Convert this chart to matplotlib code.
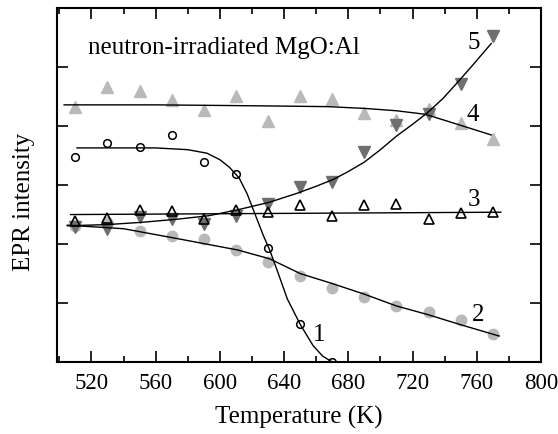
import numpy as np
import matplotlib as mpl
import matplotlib.pyplot as plt
from matplotlib.ticker import MultipleLocator, NullFormatter

mpl.rcParams['font.family'] = ['Liberation Serif', 'DejaVu Serif']

# measured temperatures (K)
T = [510, 530, 550, 570, 590, 610, 630, 650, 670, 690, 710, 730, 750, 770]
T1 = T[:9]

# EPR intensity, arbitrary units
y1 = [3.47, 3.71, 3.64, 3.85, 3.39, 3.19, 1.93, 0.64, 0.0]
y2 = [2.31, 2.37, 2.22, 2.13, 2.08, 1.90, 1.69, 1.46, 1.25, 1.10, 0.95, 0.85, 0.71, 0.47]
y3 = [2.39, 2.45, 2.58, 2.56, 2.42, 2.58, 2.54, 2.66, 2.47, 2.66, 2.68, 2.42, 2.52, 2.54]
y4 = [4.32, 4.66, 4.59, 4.44, 4.27, 4.51, 4.08, 4.51, 4.46, 4.22, 4.10, 4.29, 4.05, 3.78]
y5 = [2.29, 2.25, 2.46, 2.42, 2.34, 2.47, 2.68, 2.97, 3.05, 3.56, 4.02, 4.20, 4.71, 5.53]

# fitted curves
f1_T = [511, 560, 580, 592, 600, 606, 612, 617, 622, 627, 631, 636, 642, 650, 658, 664, 670]
f1_y = [3.63, 3.63, 3.60, 3.54, 3.43, 3.30, 3.12, 2.85, 2.50, 2.15, 1.90, 1.53, 1.07, 0.64, 0.28, 0.10, 0.0]
f2_T = [505, 540, 572, 611, 631, 650, 670, 690, 710, 730, 749, 774]
f2_y = [2.32, 2.26, 2.10, 1.90, 1.75, 1.50, 1.33, 1.15, 0.95, 0.80, 0.64, 0.44]
f3_T = [507, 775]
f3_y = [2.50, 2.54]
f4_T = [503, 560, 600, 636, 667, 690, 710, 728, 748, 769]
f4_y = [4.36, 4.36, 4.35, 4.34, 4.33, 4.30, 4.26, 4.20, 4.03, 3.85]
f5_T = [505, 530, 552, 573, 593, 611, 631, 648, 660, 671, 680, 690, 700, 710,
        720, 729, 739, 748, 758, 769]
f5_y = [2.31, 2.33, 2.37, 2.42, 2.48, 2.58, 2.71, 2.86, 2.98, 3.10, 3.23, 3.39, 3.60, 3.83,
        4.03, 4.22, 4.47, 4.74, 5.05, 5.40]

# curve numbers: (T, intensity)
tags = ['1', '2', '3', '4', '5']
tag_T = [662, 761, 758, 757.5, 758]
tag_y = [0.47, 0.82, 2.76, 4.20, 5.42]

light = '#b9b9b9'
dark = '#6f6f6f'

fig = plt.figure(figsize=(5.58, 4.35), dpi=100)
ax = fig.add_axes([0.102, 0.1655, 0.8675, 0.8135])

for ft, fy in [(f1_T, f1_y), (f2_T, f2_y), (f3_T, f3_y), (f4_T, f4_y), (f5_T, f5_y)]:
    ax.plot(ft, fy, color='k', lw=1.0, zorder=3)

ax.plot(T, y4, '^', color=light, ms=8, mec=light, zorder=2)
ax.plot(T, y2, 'o', color=light, ms=7.5, mec=light, zorder=2)
ax.plot(T, y5, 'v', color=dark, ms=8, mec=dark, zorder=2)
ax.plot(T, y3, '^', mfc='none', mec='k', ms=6.5, mew=1.2, zorder=4)
ax.plot(T1, y1, 'o', mfc='none', mec='k', ms=5.5, mew=1.1, zorder=4)

ax.text(0.064, 0.89, 'neutron-irradiated MgO:Al', fontsize=18, va='center',
        transform=ax.transAxes)
for t, x, y in zip(tags, tag_T, tag_y):
    ax.text(x, y, t, fontsize=18, ha='center', va='center')

ax.set_xlim(498.5, 800)
ax.set_ylim(0, 6)
ax.xaxis.set_major_locator(MultipleLocator(40))
ax.xaxis.set_minor_locator(MultipleLocator(20))
ax.yaxis.set_major_locator(MultipleLocator(1))
ax.yaxis.set_major_formatter(NullFormatter())
ax.tick_params(which='both', direction='in', top=True, right=True, width=1.2)
ax.tick_params(which='major', length=8, labelsize=16.5, pad=7)
ax.tick_params(which='minor', length=4)
for s in ax.spines.values():
    s.set_linewidth(1.5)

ax.set_xlabel('Temperature (K)', fontsize=18, labelpad=9)
ax.set_ylabel('EPR intensity', fontsize=18)
ax.yaxis.set_label_coords(-0.045, 0.455)

fig.savefig('out.png', dpi=100)
